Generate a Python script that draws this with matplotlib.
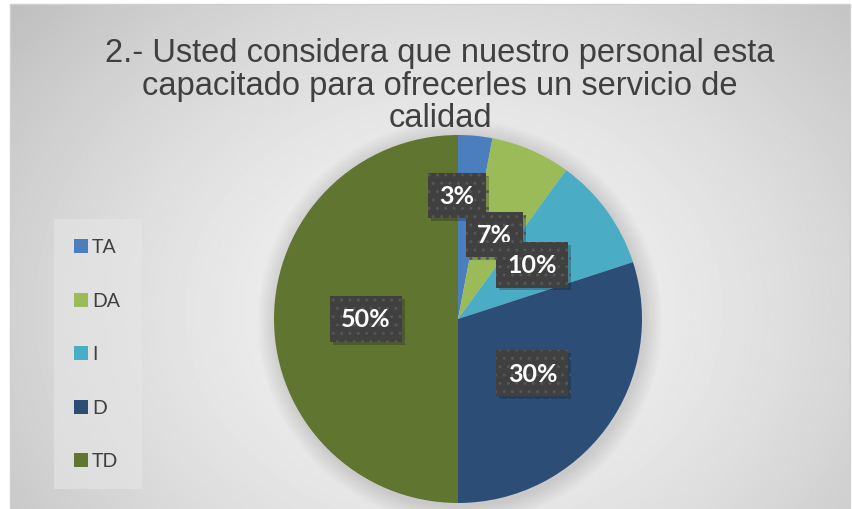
import numpy as np
import matplotlib
matplotlib.use('Agg')
import matplotlib.pyplot as plt
import matplotlib.patheffects as pe
from matplotlib.patches import Rectangle, Circle

categories = ['TA', 'DA', 'I', 'D', 'TD']
values = [3, 7, 10, 30, 50]
colors = ['#4a7ebe', '#9bbb59', '#4bacc6', '#2c4d75', '#5f7530']
title = '2.- Usted considera que nuestro personal esta\ncapacitado para ofrecerles un servicio de\ncalidad'

W, H = 852, 510
fig = plt.figure(figsize=(W / 100, H / 100), dpi=100)

# background: radial gray gradient inside the chart area
bg = fig.add_axes([0, 0, 1, 1])
bg.set_xlim(0, W)
bg.set_ylim(H, 0)
bg.axis('off')
yy, xx = np.mgrid[0:H, 0:W]
d = np.sqrt(((xx - 450) / 520.0) ** 2 + ((yy - 310) / 420.0) ** 2)
shade = np.clip(0.955 - 0.17 * d ** 1.6, 0.74, 0.96)
bg.imshow(shade, cmap='gray', vmin=0, vmax=1, extent=(10, W - 2, H, 5), zorder=0)
bg.add_patch(Rectangle((10, 5), W - 12, H, fill=False, edgecolor='#d0d0d0', lw=1, zorder=1))
# legend box
bg.add_patch(Rectangle((54, 220), 88, 270, facecolor='#e6e6e6', edgecolor='none', alpha=0.6, zorder=1))

bg.text(440, 86, title, ha='center', va='center', fontsize=23.5, color='#404040',
        family='Liberation Sans', linespacing=1.07, zorder=2)

# pie
cx, cy, r = 458, 320, 184
ax = fig.add_axes([(cx - r) / W, (H - cy - r) / H, 2 * r / W, 2 * r / H])
ax.axis('off')

# soft shadow around the pie
for k in range(10):
    ax.add_patch(Circle((0.01, -0.015), 1 + 0.01 * (10 - k), facecolor='black',
                        alpha=0.012, edgecolor='none', zorder=0, clip_on=False))

wedges, texts, autotexts = ax.pie(values, colors=colors, startangle=90, counterclock=False,
                                  autopct='%d%%', pctdistance=0.5, radius=1,
                                  wedgeprops=dict(linewidth=0),
                                  textprops=dict(color='white', fontsize=18, fontweight='bold',
                                                 family='Lato'))
ax.set_xlim(-1, 1)
ax.set_ylim(-1, 1)
ax.set_aspect('equal')
for w in wedges:
    w.set_clip_on(False)

# excel moved the small label up to avoid overlap
autotexts[0].set_position((-0.005, 0.67))

for t in autotexts:
    t.set_bbox(dict(boxstyle='square,pad=0.45', facecolor='#404040', edgecolor='#555555',
                    linewidth=0, hatch='..'))
    t.get_bbox_patch().set_path_effects([pe.withSimplePatchShadow(offset=(2, -2), alpha=0.25)])

# legend
for i, (cat, col) in enumerate(zip(categories, colors)):
    y = 247 + i * 53.5
    bg.add_patch(Rectangle((74, y - 7), 14, 14, facecolor=col, edgecolor='none', zorder=3))
    bg.text(92, y + 1, cat, ha='left', va='center', fontsize=14, color='#404040',
            family='Lato', zorder=3)

fig.savefig('out.png', dpi=100)
